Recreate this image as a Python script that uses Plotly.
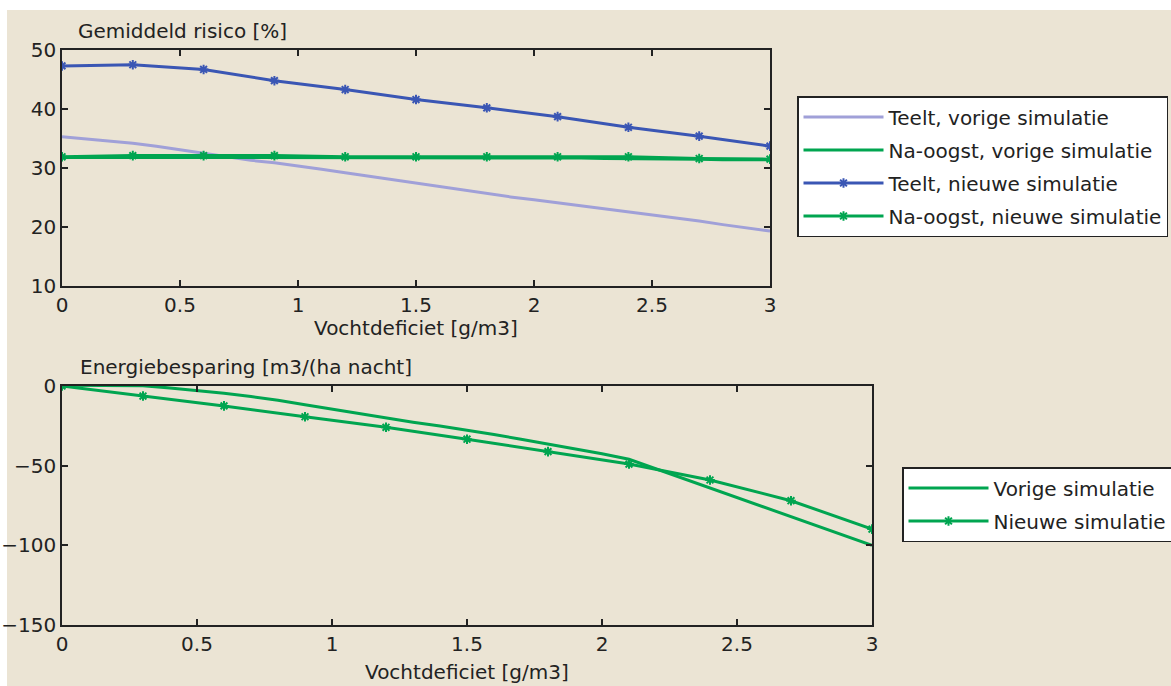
import plotly.graph_objects as go

# ---------------- data ----------------
x_fine = [round(i * 0.1, 1) for i in range(31)]
x_coarse = [0, 0.3, 0.6, 0.9, 1.2, 1.5, 1.8, 2.1, 2.4, 2.7, 3.0]

teelt_vorige = [35.3, 34.95, 34.6, 34.2, 33.7, 33.1, 32.5, 31.9, 31.3, 30.9,
                30.4, 29.8, 29.2, 28.6, 28.0, 27.5, 26.9, 26.3, 25.7, 25.1,
                24.6, 24.1, 23.6, 23.1, 22.6, 22.1, 21.6, 21.0, 20.4, 19.9, 19.3]
naoogst_vorige = [31.8, 31.8, 31.8, 31.8, 31.8, 31.8, 31.8, 31.8, 31.8, 31.8,
                  31.8, 31.8, 31.8, 31.8, 31.8, 31.8, 31.7, 31.7, 31.7, 31.7,
                  31.7, 31.7, 31.7, 31.6, 31.6, 31.6, 31.5, 31.5, 31.4, 31.4, 31.4]
teelt_nieuwe = [47.3, 47.5, 46.7, 44.8, 43.3, 41.6, 40.2, 38.7, 36.9, 35.4, 33.7]
naoogst_nieuwe = [31.9, 32.1, 32.1, 32.1, 31.9, 31.9, 31.9, 31.9, 31.9, 31.6, 31.5]

energie_vorige = [0.5, 0.5, 0.4, 0.2, -1.2, -2.8, -4.6, -6.6, -8.9, -11.8,
                  -14.6, -17.3, -20.0, -22.7, -25.1, -27.7, -30.5, -33.4, -36.4, -39.4,
                  -42.5, -46.0, -52.0, -58.0, -64.0, -70.0, -76.0, -82.0, -88.0, -94.0, -100.0]
energie_nieuwe = [0, -6.3, -12.5, -19.3, -25.9, -33.4, -41.2, -49.0, -59.0, -72.0, -89.8]

x_ticks = [0, 0.5, 1, 1.5, 2, 2.5, 3]
y1_ticks = [10, 20, 30, 40, 50]
y2_ticks = [-150, -100, -50, 0]

# ---------------- style ----------------
W, H = 1171, 686
FONT = "DejaVu Sans"
FS = 20
BEIGE = "#ebe4d4"
PURPLE = "#a0a0d8"
BLUE = "#3a56b4"
GREEN = "#00a550"
LW = 3

fig = go.Figure()

mk = dict(symbol="asterisk-open", size=8, line=dict(width=2))

fig.add_trace(go.Scatter(x=x_fine, y=teelt_vorige, mode="lines", name="Teelt, vorige simulatie",
                         line=dict(color=PURPLE, width=LW), xaxis="x", yaxis="y",
                         legend="legend", legendgroup="a"))
fig.add_trace(go.Scatter(x=x_fine, y=naoogst_vorige, mode="lines", name="Na-oogst, vorige simulatie",
                         line=dict(color=GREEN, width=LW), xaxis="x", yaxis="y",
                         legend="legend", legendgroup="b"))
fig.add_trace(go.Scatter(x=x_coarse, y=teelt_nieuwe, mode="lines+markers", name="Teelt, nieuwe simulatie",
                         line=dict(color=BLUE, width=LW), marker=dict(color=BLUE, **mk),
                         xaxis="x", yaxis="y", legend="legend", legendgroup="c"))
fig.add_trace(go.Scatter(x=x_coarse, y=naoogst_nieuwe, mode="lines+markers", name="Na-oogst, nieuwe simulatie",
                         line=dict(color=GREEN, width=LW), marker=dict(color=GREEN, **mk),
                         xaxis="x", yaxis="y", legend="legend", legendgroup="d"))

fig.add_trace(go.Scatter(x=x_fine, y=energie_vorige, mode="lines", name="Vorige simulatie",
                         line=dict(color=GREEN, width=LW), xaxis="x2", yaxis="y2",
                         legend="legend2", legendgroup="e"))
fig.add_trace(go.Scatter(x=x_coarse, y=energie_nieuwe, mode="lines+markers", name="Nieuwe simulatie",
                         line=dict(color=GREEN, width=LW), marker=dict(color=GREEN, **mk),
                         xaxis="x2", yaxis="y2", legend="legend2", legendgroup="f"))

ax_common = dict(showline=True, linecolor="#222222", linewidth=1.5, mirror="ticks",
                 ticks="inside", ticklen=6, tickcolor="#222222", tickwidth=1.5,
                 showgrid=False, zeroline=False, automargin=False,
                 tickfont=dict(family=FONT, size=FS, color="#222222"))

top_y = [1 - 286 / H, 1 - 50 / H]
bot_y = [1 - 625 / H, 1 - 386 / H]

leg_common = dict(bgcolor="white", bordercolor="#222222", borderwidth=1.5,
                  font=dict(family=FONT, size=FS, color="#222222"),
                  tracegroupgap=4, itemwidth=80, xanchor="left", yanchor="top",
                  xref="container", yref="container")

fig.update_layout(
    width=W, height=H,
    margin=dict(l=0, r=0, t=0, b=0, autoexpand=False),
    paper_bgcolor="white", plot_bgcolor="white",
    font=dict(family=FONT, size=FS, color="#222222"),
    xaxis=dict(domain=[62 / W, 770 / W], range=[0, 3], tickvals=x_ticks, anchor="y", **ax_common),
    yaxis=dict(domain=top_y, range=[10, 50], tickvals=y1_ticks, anchor="x", **ax_common),
    xaxis2=dict(domain=[62 / W, 872 / W], range=[0, 3], tickvals=x_ticks, anchor="y2", **ax_common),
    yaxis2=dict(domain=bot_y, range=[-150, 0], tickvals=y2_ticks, anchor="x2", **ax_common),
    legend=dict(x=797 / W, y=1 - 96 / H, **leg_common),
    legend2=dict(x=902 / W, y=1 - 467 / H, **leg_common),
    shapes=[dict(type="rect", xref="paper", yref="paper", x0=7 / W, x1=1, y0=0, y1=1 - 10 / H,
                 fillcolor=BEIGE, line=dict(width=0), layer="below")],
    annotations=[
        dict(text="Gemiddeld risico [%]", x=76 / W, y=1 - 31 / H, xref="paper", yref="paper",
             xanchor="left", yanchor="middle", showarrow=False),
        dict(text="Vochtdeficiet [g/m3]", x=416 / W, y=1 - 328 / H, xref="paper", yref="paper",
             xanchor="center", yanchor="middle", showarrow=False),
        dict(text="Energiebesparing [m3/(ha nacht]", x=78 / W, y=1 - 367 / H, xref="paper", yref="paper",
             xanchor="left", yanchor="middle", showarrow=False),
        dict(text="Vochtdeficiet [g/m3]", x=467 / W, y=1 - 672 / H, xref="paper", yref="paper",
             xanchor="center", yanchor="middle", showarrow=False),
    ],
)

fig.write_html("out.html")
